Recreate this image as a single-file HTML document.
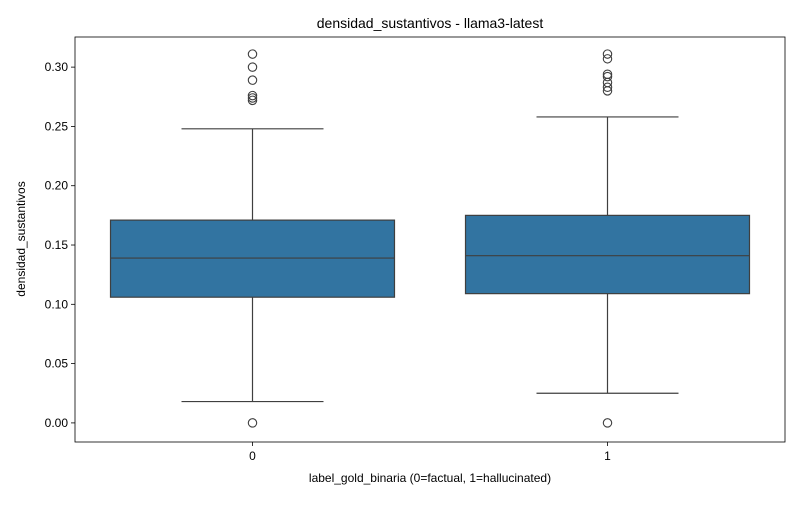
<!DOCTYPE html>
<html><head><meta charset="utf-8"><style>
html,body{margin:0;padding:0;background:#fff;}
svg text{font-family:"Liberation Sans","DejaVu Sans",sans-serif;fill:#000;}
</style></head><body>
<svg id="chart" width="800" height="500" xmlns="http://www.w3.org/2000/svg">
<text x="430" y="28" font-size="14" text-anchor="middle">densidad_sustantivos - llama3-latest</text>
<text x="430" y="482" font-size="12" text-anchor="middle">label_gold_binaria (0=factual, 1=hallucinated)</text>
<text x="0" y="0" font-size="12" text-anchor="middle" transform="translate(25,239) rotate(-90)">densidad_sustantivos</text>
<g id="plot"></g>
</svg>
<script>
const categories = ["0", "1"];
const q1 = [0.106, 0.109];
const medians = [0.139, 0.141];
const q3 = [0.171, 0.175];
const whiskerLow = [0.018, 0.025];
const whiskerHigh = [0.248, 0.258];
const outliers0 = [0, 0.311, 0.300, 0.289, 0.276, 0.274, 0.272];
const outliers1 = [0, 0.311, 0.307, 0.294, 0.292, 0.287, 0.283, 0.280];
const yTicks = [0, 0.05, 0.10, 0.15, 0.20, 0.25, 0.30];
const yTickLabels = ["0.00","0.05","0.10","0.15","0.20","0.25","0.30"];

const L=75,R=785,T=37,B=442;
const yMin=-0.0161, yMax=0.3254;
function y(v){return B-(v-yMin)/(yMax-yMin)*(B-T);}
const band=(R-L)/categories.length;
function xc(i){return L+band*(i+0.5);}
const ns="http://www.w3.org/2000/svg";
const g=document.getElementById('plot');
function mk(tag,attrs){const e=document.createElementNS(ns,tag);for(const k in attrs)e.setAttribute(k,attrs[k]);g.appendChild(e);return e;}

yTicks.forEach((t,i)=>{
  const ln=mk('line',{x1:L-4,x2:L,y1:y(t),y2:y(t),stroke:'#000','stroke-width':0.8});
  
  
  const tx=mk('text',{x:L-7,y:y(t)+4,'font-size':12,'text-anchor':'end'});
  tx.textContent=yTickLabels[i];
  
  
});
categories.forEach((c,i)=>{
  const x=xc(i), bw=band*0.8, cw=bw/2;
  const col='#3f3f3f';
  const w1=mk('line',{x1:x,x2:x,y1:y(q1[i]),y2:y(whiskerLow[i]),stroke:col,'stroke-width':1.2});
  
  
  const w2=mk('line',{x1:x,x2:x,y1:y(q3[i]),y2:y(whiskerHigh[i]),stroke:col,'stroke-width':1.2});
  
  
  const c1=mk('line',{x1:x-cw/2,x2:x+cw/2,y1:y(whiskerLow[i]),y2:y(whiskerLow[i]),stroke:col,'stroke-width':1.2});
  
  
  const c2=mk('line',{x1:x-cw/2,x2:x+cw/2,y1:y(whiskerHigh[i]),y2:y(whiskerHigh[i]),stroke:col,'stroke-width':1.2});
  
  
  const bx=mk('rect',{x:x-bw/2,y:y(q3[i]),width:bw,height:y(q1[i])-y(q3[i]),fill:i==0?'#2a72a8':'#3274a1',stroke:col,'stroke-width':1.2});
  bx.setAttribute('fill','#3274a1');
  
  
  const md=mk('line',{x1:x-bw/2,x2:x+bw/2,y1:y(medians[i]),y2:y(medians[i]),stroke:col,'stroke-width':1.2});
  
  
  (i==0?outliers0:outliers1).forEach(v=>{
    const o=mk('circle',{cx:x,cy:y(v),r:4.2,fill:'none',stroke:col,'stroke-width':1.1});
    
    
  });
  const tm=mk('line',{x1:x,x2:x,y1:B,y2:B+4,stroke:'#000','stroke-width':0.8});
  
  
  const tl=mk('text',{x:x,y:B+18,'font-size':12,'text-anchor':'middle'});
  tl.textContent=c;
  
  
});
const fr=mk('rect',{x:L,y:T,width:R-L,height:B-T,fill:'none',stroke:'#000','stroke-width':0.8});


</script>
</body></html>
